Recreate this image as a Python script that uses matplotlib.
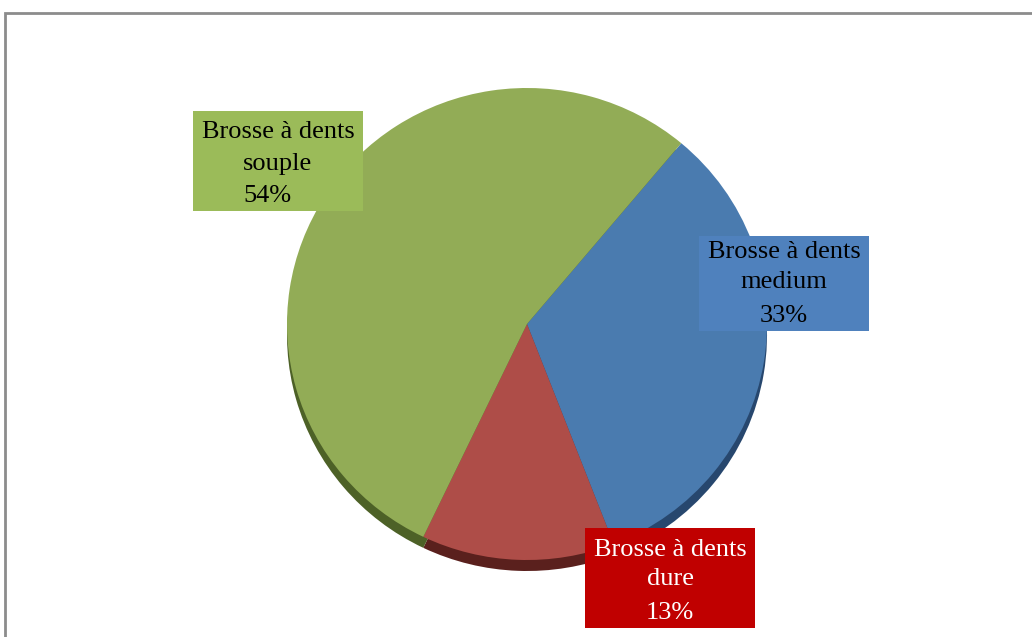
import matplotlib
matplotlib.use("Agg")
import matplotlib.pyplot as plt
from matplotlib.patches import Rectangle

# Data
categories = ["Brosse à dents medium", "Brosse à dents dure", "Brosse à dents souple"]
short_names = ["medium", "dure", "souple"]
shares = [33, 13, 54]

face_colors = ["#4A7BAF", "#AE4D48", "#92AC56"]
side_colors = ["#27476E", "#5A201D", "#4D6127"]
box_colors = ["#4F81BD", "#C00000", "#9BBB59"]
text_colors = ["black", "white", "black"]

W, H = 1032, 637
fig = plt.figure(figsize=(W / 100, H / 100), dpi=100)
fig.patch.set_facecolor("white")

# Pie geometry in pixels (from top-left)
cx, cy = 527, 324
rx, ry = 240, 236
depth = 11

ax = fig.add_axes([0, 0, 1, 1])
ax.axis("off")

# Side (depth) of the pie
ax.pie(shares, colors=side_colors, startangle=50, counterclock=False,
       radius=1.0, center=(0, -depth / ry), frame=False,
       wedgeprops=dict(linewidth=0))
# Top face
ax.pie(shares, colors=face_colors, startangle=50, counterclock=False,
       radius=1.0, center=(0, 0), frame=False,
       wedgeprops=dict(linewidth=0))
ax.set_xlim(-cx / rx, (W - cx) / rx)
ax.set_ylim(-(H - cy) / ry, cy / ry)
ax.set_aspect("auto")


def fx(px):
    return px / W


def fy(py):
    return 1 - py / H


# Outer frame of the chart area
fig.patches.append(Rectangle((fx(4.5), fy(700)), fx(1100) - fx(4.5), fy(13.5) - fy(700),
                             transform=fig.transFigure, fill=False,
                             edgecolor="#8C8C8C", linewidth=2.0, zorder=0))

# Data label boxes: (left, top, width, height, line centres, line y's)
boxes = {
    "souple": (193, 111, 170, 100, [278, 278, 267], [132, 164, 196]),
    "medium": (699, 236, 170, 95, [784, 784, 784], [252, 282, 316]),
    "dure": (585, 528, 170, 100, [670, 670, 670], [550, 579, 613]),
}

for name, share, bc, tc in zip(short_names, shares, box_colors, text_colors):
    left, top, bw, bh, xs, ys = boxes[name]
    fig.patches.append(Rectangle((fx(left), fy(top + bh)), bw / W, bh / H,
                                 transform=fig.transFigure, facecolor=bc,
                                 edgecolor="none", zorder=5))
    lines = ["Brosse à dents", name, f"{share}%"]
    for line, x, y in zip(lines, xs, ys):
        fig.text(fx(x), fy(y), line, ha="center", va="center",
                 fontsize=19, family="Liberation Serif", color=tc, zorder=6)

fig.savefig("out.png", dpi=100)
